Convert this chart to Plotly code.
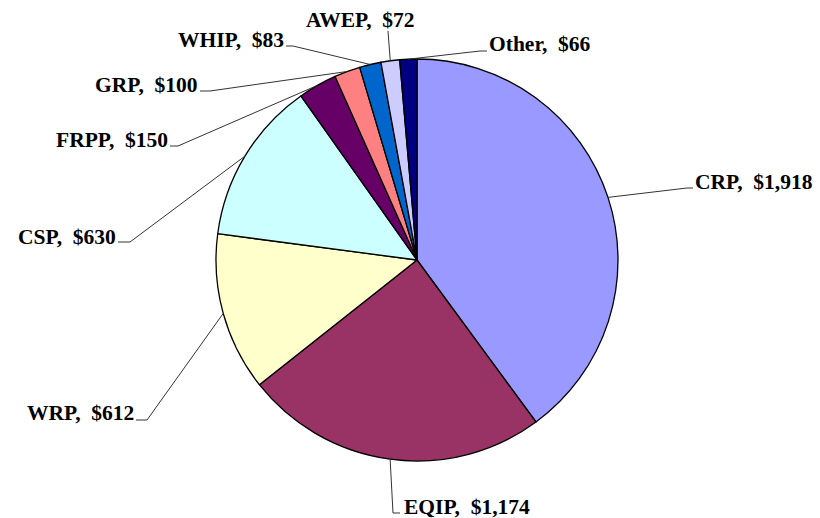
import math
import plotly.graph_objects as go

# ---- data ----
labels = ["CRP", "EQIP", "WRP", "CSP", "FRPP", "GRP", "WHIP", "AWEP", "Other"]
values = [1918, 1174, 612, 630, 150, 100, 83, 72, 66]
colors = ["#9999FF", "#993366", "#FFFFCC", "#CCFFFF", "#660066",
          "#FF8080", "#0066CC", "#CCCCFF", "#000080"]

W, H = 820, 518
CX, CY, R = 417, 260, 201  # pie centre / radius in pixels (layout)

# label placement (pixels): text x, text y-centre, xanchor, elbow point, underline end
label_layout = {
    "CRP":   (693, 182, "left",   (687, 188), (693, 188)),
    "Other": (487, 44,  "left",   (480, 51),  (487, 51)),
    "AWEP":  (360, 20,  "center", (388, 31),  None),
    "WHIP":  (286, 40,  "right",  (293, 46),  (286, 46)),
    "GRP":   (200, 85,  "right",  (210, 91),  (200, 91)),
    "FRPP":  (170, 140, "right",  (178, 146), (170, 146)),
    "CSP":   (118, 237, "right",  (130, 242), (118, 242)),
    "WRP":   (136, 413, "right",  (147, 420), (136, 420)),
    "EQIP":  (402, 507, "left",   (393, 513), (400, 513)),
}

def px(x):
    return x / W

def py(y):
    return 1 - y / H

fig = go.Figure(go.Pie(
    labels=labels,
    values=values,
    sort=False,
    direction="clockwise",
    rotation=0,
    marker=dict(colors=colors, line=dict(color="black", width=1.3)),
    textinfo="none",
    hoverinfo="label+value",
    showlegend=False,
    domain=dict(x=[px(CX - R), px(CX + R)], y=[py(CY + R), py(CY - R)]),
))

total = sum(values)
cum = 0
shapes = []
annotations = []
for lab, val in zip(labels, values):
    mid = (cum + val / 2) / total * 2 * math.pi
    cum += val
    ax_ = CX + R * math.sin(mid)
    ay_ = CY - R * math.cos(mid)
    tx, ty, anchor, elbow, uend = label_layout[lab]
    path = f"M {px(ax_)},{py(ay_)} L {px(elbow[0])},{py(elbow[1])}"
    if uend is not None:
        path += f" L {px(uend[0])},{py(uend[1])}"
    shapes.append(dict(type="path", xref="paper", yref="paper", path=path,
                       line=dict(color="#333333", width=1)))
    annotations.append(dict(
        x=px(tx), y=py(ty), xref="paper", yref="paper",
        xanchor=anchor, yanchor="middle", showarrow=False,
        text=f"{lab},\u00a0 ${val:,}",
        font=dict(family="Liberation Serif", size=21.5, color="black", weight="bold"),
    ))

fig.update_layout(
    width=W, height=H,
    margin=dict(l=0, r=0, t=0, b=0),
    paper_bgcolor="white",
    plot_bgcolor="white",
    shapes=shapes,
    annotations=annotations,
)

fig.write_html("out.html", config={"displayModeBar": False},
               post_script="document.body.style.margin='0px';")
